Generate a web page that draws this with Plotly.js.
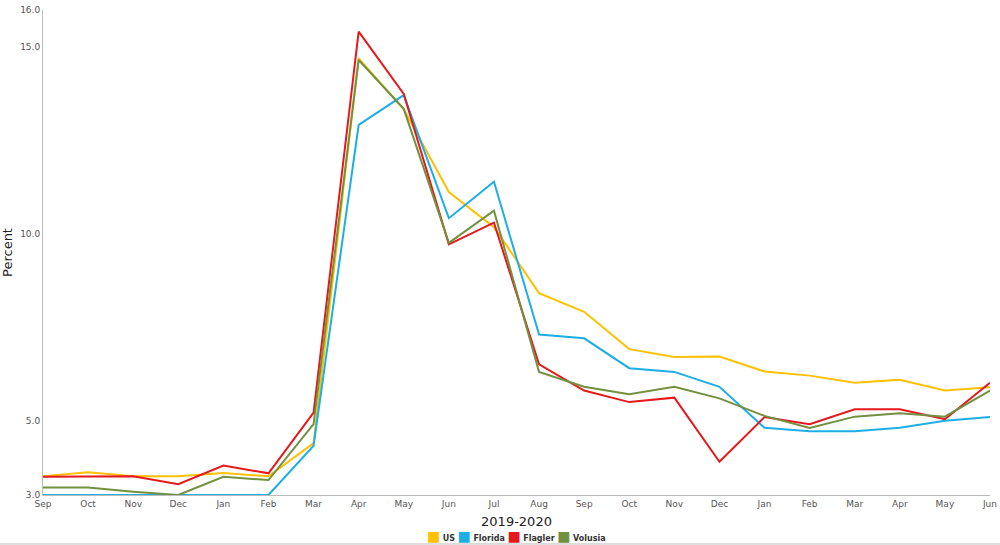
<!DOCTYPE html>
<html>
<head>
<meta charset="utf-8">
<script src="https://cdn.plot.ly/plotly-3.0.1.min.js"></script>
<style>html,body{margin:0;padding:0;background:#fff;}#chart{width:1000px;height:545px;}</style>
</head>
<body>
<div id="chart"></div>
<script>
const months = ["Sep","Oct","Nov","Dec","Jan","Feb","Mar","Apr","May","Jun","Jul","Aug","Sep","Oct","Nov","Dec","Jan","Feb","Mar","Apr","May","Jun"];
const us      = [3.5,3.61,3.5,3.5,3.59,3.5,4.39,14.7,13.34,11.12,10.18,8.41,7.91,6.91,6.70,6.71,6.31,6.20,6.01,6.09,5.80,5.89];
const florida = [3.0,3.0,3.0,3.0,3.0,3.0,4.32,12.92,13.72,10.42,11.40,7.30,7.20,6.40,6.30,5.90,4.80,4.71,4.71,4.80,4.99,5.09];
const flagler = [3.49,3.5,3.5,3.29,3.79,3.58,5.21,15.42,13.75,9.72,10.30,6.50,5.80,5.49,5.61,3.89,5.09,4.90,5.30,5.30,5.03,6.01];
const volusia = [3.2,3.2,3.09,3.0,3.49,3.40,4.90,14.66,13.35,9.76,10.62,6.30,5.90,5.70,5.90,5.59,5.12,4.80,5.10,5.19,5.10,5.80];
const seriesNames = ["US","Florida","Flagler","Volusia"];
const seriesColors = ["#FFC000","#1EAEE6","#E5191C","#72903F"];
const yTicks = [3.0,5.0,10.0,15.0,16.0];

const xs = months.map((m,i)=>i);
const data = [];
[us,florida,flagler,volusia].forEach((s,k)=>{
  data.push({x:xs,y:s,type:'scatter',mode:'lines',name:seriesNames[k],
    line:{color:seriesColors[k],width:2},showlegend:false,hoverinfo:'y'});
});

const legendText = seriesNames.map((n,k)=>
  '<span style="color:'+seriesColors[k]+';font-size:14px">■</span> <b>'+n+'</b>').join(' ');

const layout = {
  width:1000,height:545,
  margin:{l:43,r:10,t:10,b:50,pad:0},
  paper_bgcolor:'#fff',plot_bgcolor:'#fff',
  showlegend:false,
  font:{family:'DejaVu Sans, Verdana, sans-serif',color:'#555'},
  xaxis:{range:[0,21],tickvals:xs,ticktext:months,showgrid:false,zeroline:false,automargin:false,
    showline:true,linecolor:'#bbb',linewidth:1,ticks:'',tickfont:{size:9,color:'#555'},
    title:{text:'2019-2020',font:{size:13,color:'#222'},standoff:9}},
  yaxis:{range:[3,16],tickvals:yTicks,ticktext:yTicks.map(v=>v.toFixed(1)),showgrid:false,zeroline:false,automargin:false,
    showline:true,linecolor:'#bbb',linewidth:1,ticks:'',tickfont:{size:9,color:'#555'},
    title:{text:'Percent',font:{size:13,color:'#222'},standoff:8}},
  annotations:[{xref:'paper',yref:'paper',x:0.5,y:-0.085,xanchor:'center',yanchor:'middle',
    showarrow:false,text:legendText,font:{size:8,color:'#333'}}],
  shapes:[{type:'line',xref:'paper',yref:'paper',x0:-0.0454,x1:1.0106,y0:-0.101,y1:-0.101,line:{color:'#bbb',width:1}}]
};
Plotly.newPlot('chart',data,layout,{displayModeBar:false,staticPlot:true});
</script>
</body>
</html>
